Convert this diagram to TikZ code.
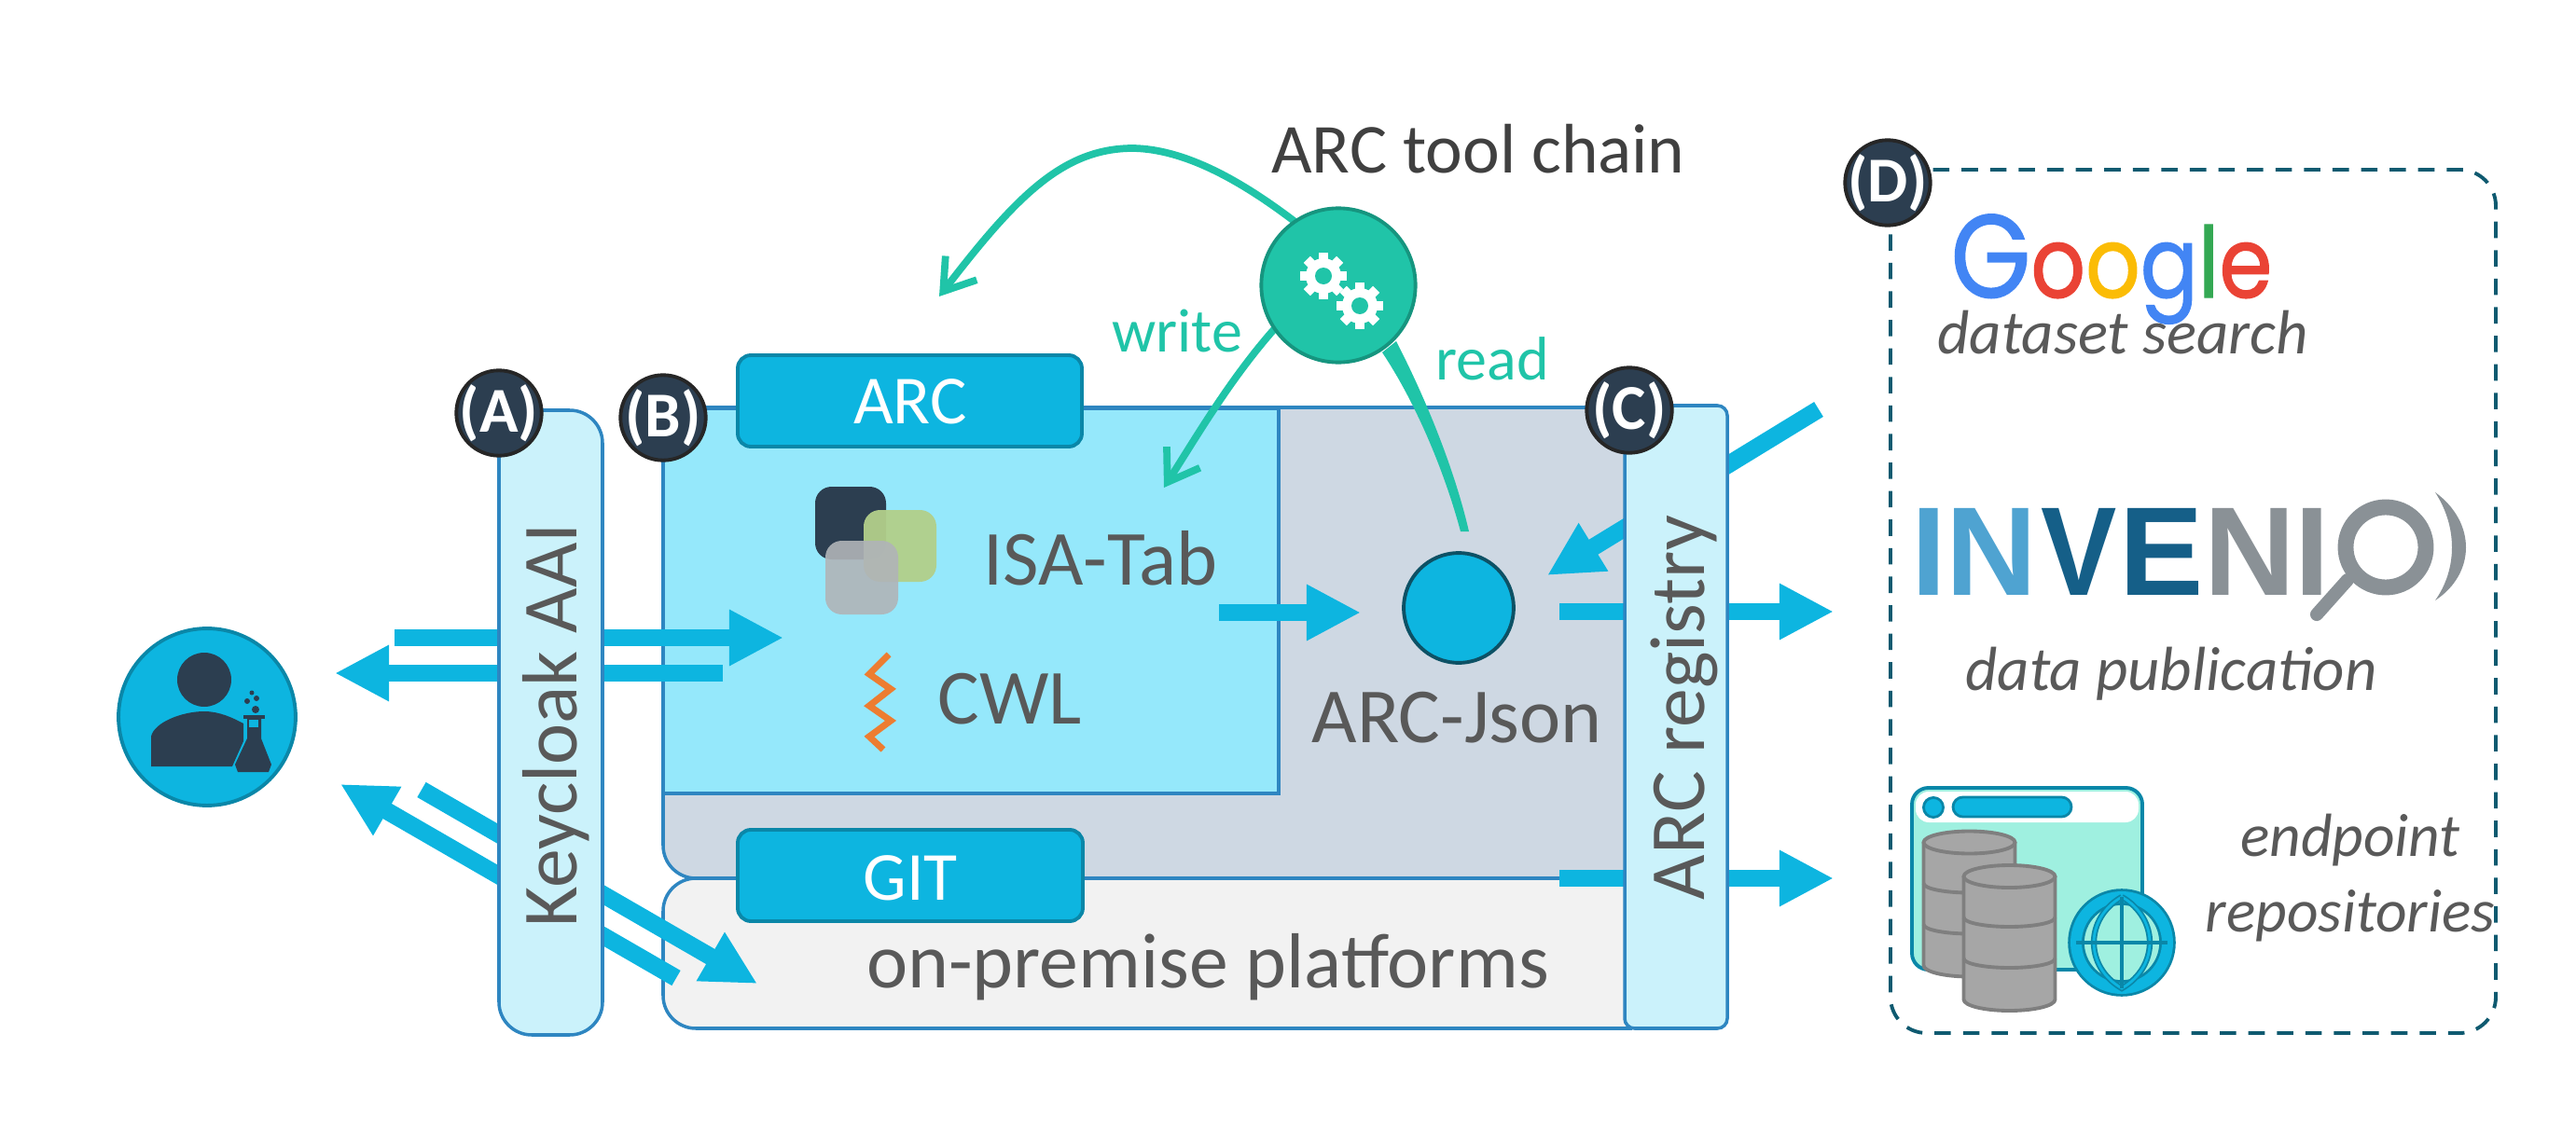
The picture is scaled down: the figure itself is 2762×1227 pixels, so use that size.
\documentclass[tikz,border=0pt]{standalone}
\usepackage{fontspec}
\usepackage{graphicx}
\setmainfont{Carlito}
\newfontfamily\popp[FakeBold=1.2]{Poppins}
\newfontfamily\libs{Liberation Sans}
\usetikzlibrary{arrows.meta}
\definecolor{flowblue}{HTML}{0DB5E0}
\definecolor{flowedge}{HTML}{0A87A8}
\definecolor{panelline}{HTML}{2E86C1}
\definecolor{paleblue}{HTML}{CBF2FB}
\definecolor{arccyan}{HTML}{95E8FB}
\definecolor{slatefill}{HTML}{CED8E3}
\definecolor{premfill}{HTML}{F2F2F2}
\definecolor{navy}{HTML}{2C3E50}
\definecolor{teal}{HTML}{20C4A8}
\definecolor{tealedge}{HTML}{16957F}
\definecolor{txtgray}{HTML}{595959}
\definecolor{dashline}{HTML}{0F5A70}
\definecolor{invA}{HTML}{4FA3D1}
\definecolor{invB}{HTML}{155F88}
\definecolor{invC}{HTML}{8A9196}
\definecolor{mint}{HTML}{9FF0E0}
\definecolor{cylfill}{HTML}{A6A6A6}
\definecolor{cylline}{HTML}{7F7F7F}
\definecolor{gBlue}{HTML}{4285F4}
\definecolor{gRed}{HTML}{EA4335}
\definecolor{gYellow}{HTML}{FBBC05}
\definecolor{gGreen}{HTML}{34A853}
\definecolor{isagreen}{HTML}{B2CF8A}
\definecolor{isagray}{HTML}{B0B4B8}
\definecolor{cwlorange}{HTML}{ED7D31}
\newcommand{\fs}[1]{\fontsize{#1}{#1}\selectfont}
\tikzset{
 x=0.01cm,y=-0.01cm,
 lab/.style={text=txtgray,inner sep=0,font=\fs{23.8}},
 itlab/.style={text=txtgray,inner sep=0,font=\fs{19}\itshape},
 badge/.style={circle,fill=navy,draw=black!85,line width=1.1pt,minimum size=26pt,inner sep=-6pt,text=white,font=\fs{19.5}\bfseries},
 tagbox/.style={fill=flowblue,draw=flowedge,line width=1.1pt,rounded corners=4pt},
 taglab/.style={inner sep=0,text=white,font=\fs{21}},
 flowarrow/.style={draw=flowblue,line width=5.3pt,-{Triangle[length=16.5pt,width=16pt]}},
 toolarrow/.style={draw=teal,line width=2.2pt,-{Straight Barb[length=9pt,width=12pt]}},
 panelbar/.style={fill=paleblue,draw=panelline,line width=1pt},
 gearpic/.pic={
   \fill[white] (0,0) circle (19);
   \foreach \a in {0,45,...,315}{\fill[white,rotate=\a] (-5,13) rectangle (5,25);}
   \fill[teal] (0,0) circle (9);
 },
 cyl/.pic={
   \draw[cylline,line width=1.1pt,fill=cylfill] (-49,-66) -- (-49,66) arc[start angle=180,end angle=360,x radius=49,y radius=-12] -- (49,-66);
   \draw[cylline,line width=1.1pt,fill=cylfill] (0,-66) ellipse[x radius=49,y radius=12];
   \draw[cylline,line width=1.1pt] (-49,-22) arc[start angle=180,end angle=360,x radius=49,y radius=-10];
   \draw[cylline,line width=1.1pt] (-49,22) arc[start angle=180,end angle=360,x radius=49,y radius=-10];
 },
}
\begin{document}
\begin{tikzpicture}
\useasboundingbox (0,0) rectangle (2762,1227);
% panels
\draw[panelline,line width=1pt,fill=premfill,rounded corners=10pt] (1750,942) -- (711,942) -- (711,1103) -- (1750,1103);
\draw[panelline,line width=1pt,fill=slatefill,rounded corners=10pt] (1750,437) -- (711,437) -- (711,942) -- (1750,942);
\draw[panelline,line width=1pt,fill=arccyan] (711,438) rectangle (1371,851);
% ISA squares
\fill[navy,rounded corners=5pt] (874,522) rectangle (950,600);
\fill[isagreen,fill opacity=0.95,rounded corners=5pt] (926,547) rectangle (1004,624);
\fill[isagray,fill opacity=0.9,rounded corners=5pt] (885,580) rectangle (963,659);
% CWL mark
\draw[cwlorange,line width=2pt] (953,702) -- (932,723) -- (955,739) -- (932,757) -- (955,773) -- (932,790) -- (947,804);
% texts in panels
\node[lab] (isatab) at (1180,599) {ISA-Tab};
\node[lab] (cwl) at (1083,750) {CWL};
\node[circle,fill=flowblue,draw=black!10!dashline,line width=1.1pt,minimum size=33.5pt,inner sep=0] (json) at (1564,652) {};
\node[lab] (jsonlab) at (1562,770) {ARC-Json};
\node[lab] (onprem) at (1295,1037) {on-premise platforms};
% tags
\draw[tagbox] (791,381) rectangle (1160,479);
\node[taglab] (arctag) at (976,431) {ARC};
\draw[tagbox] (791,890) rectangle (1161,988);
\node[taglab] (gittag) at (976,942) {GIT};
% flow arrows
\coordinate (a1s) at (423,684); \coordinate (a1e) at (840,684);
\coordinate (a2s) at (775,722); \coordinate (a2e) at (359,722);
\coordinate (a3s) at (452,847); \coordinate (a3e) at (812,1055);
\coordinate (a4s) at (725,1049); \coordinate (a4e) at (365,841);
\coordinate (a5s) at (1950,439); \coordinate (a5e) at (1659,617);
\coordinate (a6s) at (1672,656); \coordinate (a6e) at (1966,656);
\coordinate (a7s) at (1672,942); \coordinate (a7e) at (1966,942);
\coordinate (a8s) at (1307,657); \coordinate (a8e) at (1459,657);
\foreach \p/\q in {a1s/a1e,a2s/a2e,a3s/a3e,a4s/a4e,a5s/a5e,a6s/a6e,a7s/a7e,a8s/a8e}{\draw[flowarrow] (\p) -- (\q);}
% vertical bars
\draw[panelbar,rounded corners=10pt] (535,440) rectangle (646,1110);
\node[lab,rotate=90] (kc) at (596,778) {Keycloak AAI};
\draw[panelbar,rounded corners=3pt] (1742,435) rectangle (1852,1103);
\node[lab,rotate=90] (reg) at (1806,759) {ARC registry};
% tool chain
\node[inner sep=0,text=black!75,font=\fs{21.4}] (tclab) at (1585,160) {ARC tool chain};
\coordinate (g1) at (1390,239); \coordinate (g1t) at (1007,318);
\coordinate (g2) at (1368,351); \coordinate (g2t) at (1248,523);
\draw[toolarrow] (g1) .. controls (1330,193) and (1270,160) .. (1215,159) .. controls (1140,159) and (1090,210) .. (g1t);
\draw[toolarrow] (g2) .. controls (1320,405) and (1285,465) .. (g2t);
\fill[teal] (1482,378) .. controls (1520,435) and (1550,510) .. (1566,570) -- (1575,570) .. controls (1560,505) and (1530,430) .. (1497,366) -- cycle;
\node[circle,fill=teal,draw=tealedge,line width=1.1pt,minimum size=47pt,inner sep=0] (gear) at (1435,306) {};
\pic at (1419,296) {gearpic};
\pic at (1458,328) {gearpic};
\node[inner sep=0,text=teal,font=\fs{18.8}] (wr) at (1262,355) {write};
\node[inner sep=0,text=teal,font=\fs{18.8}] (rd) at (1600,385) {read};
% person
\node[circle,fill=flowblue,draw=flowedge,line width=1.1pt,minimum size=54pt,inner sep=0] (user) at (222,769) {};
\fill[navy] (219,729) circle (29);
\fill[navy] (162,822) -- (162,790) .. controls (165,775) and (195,763) .. (219,763) .. controls (235,763) and (250,770) .. (261,776) -- (261,795) -- (249,822) -- cycle;
\fill[navy] (261,767) rectangle (284,771);
\fill[navy] (265,771) -- (280,771) -- (280,792) -- (291,820) -- (288,828) -- (255,828) -- (252,820) -- (265,792) -- cycle;
\fill[flowblue] (267,772) rectangle (277,780);
\foreach \bx/\by/\br in {274/761/4,265/752/3,275/749/3,270/743/2.5}{\fill[navy] (\bx,\by) circle (\br);}
% D box
\draw[dashline,line width=1.1pt,dash pattern=on 5pt off 3.7pt,rounded corners=11pt] (2027,182) rectangle (2676,1108);
% Google
\node[inner sep=0,anchor=base] (goog) at (2264,319) {\scalebox{.87}[1]{\popp{\fs{36}\color{gBlue}G}{\fs{30}{\color{gRed}o}{\color{gYellow}o}{\color{gBlue}g}{\color{gGreen}l}{\color{gRed}e}}}};
\node[itlab] (ds) at (2276,357) {dataset search};
% Invenio
\node[inner sep=0,anchor=base west] (inv) at (2048.5,638) {\libs\fs{38.5}\bfseries{\color{invA}IN}\kern 1pt{\color{invB}\scalebox{.9}[1]{V}\kern 1pt E}{\color{invC}NI}};
\draw[invC,line width=4.8pt] (2558,587) circle (43);
\draw[invC,line width=4pt,line cap=round] (2517,622) -- (2484,659);
\fill[invC] (2611,528) .. controls (2655,560) and (2655,615) .. (2611,644) .. controls (2635,610) and (2635,565) .. (2611,528) -- cycle;
\node[itlab] (dp) at (2328,723) {data publication};
% endpoint icon
\draw[flowedge,line width=1.1pt,fill=mint,rounded corners=5pt] (2050,845) rectangle (2297,1040);
\fill[white,rounded corners=4pt] (2054,849) rectangle (2293,882);
\node[circle,fill=flowblue,draw=flowedge,line width=.8pt,minimum size=6pt,inner sep=0] (dot) at (2073,866) {};
\draw[flowedge,line width=.8pt,fill=flowblue,rounded corners=3pt] (2094,855) rectangle (2221,876);
\pic at (2111.5,969.5) {cyl};
\pic at (2154.5,1006) {cyl};
\fill[mint] (2275,1011) circle (50);
\draw[flowedge,line width=5pt] (2275,1011) circle (49);
\draw[flowblue,line width=3.4pt] (2275,1011) circle (49);
\draw[flowedge,line width=1.8pt] (2275,962) .. controls (2235,985) and (2235,1037) .. (2275,1060) .. controls (2315,1037) and (2315,985) .. (2275,962);
\draw[flowblue,line width=.8pt] (2275,962) .. controls (2235,985) and (2235,1037) .. (2275,1060) .. controls (2315,1037) and (2315,985) .. (2275,962);
\draw[flowedge,line width=1.2pt] (2275,962) -- (2275,1060) (2226,1011) -- (2324,1011);
\node[itlab,font=\fs{18.6}\itshape] (ep) at (2520,901) {endpoint};
\node[itlab,font=\fs{18.6}\itshape] (rp) at (2520,982) {repositories};
% badges
\node[badge] (A) at (535,443) {(A)};
\node[badge] (B) at (711,448) {(B)};
\node[badge] (C) at (1747,440) {(C)};
\node[badge] (D) at (2024,196) {(D)};
\end{tikzpicture}
\end{document}
